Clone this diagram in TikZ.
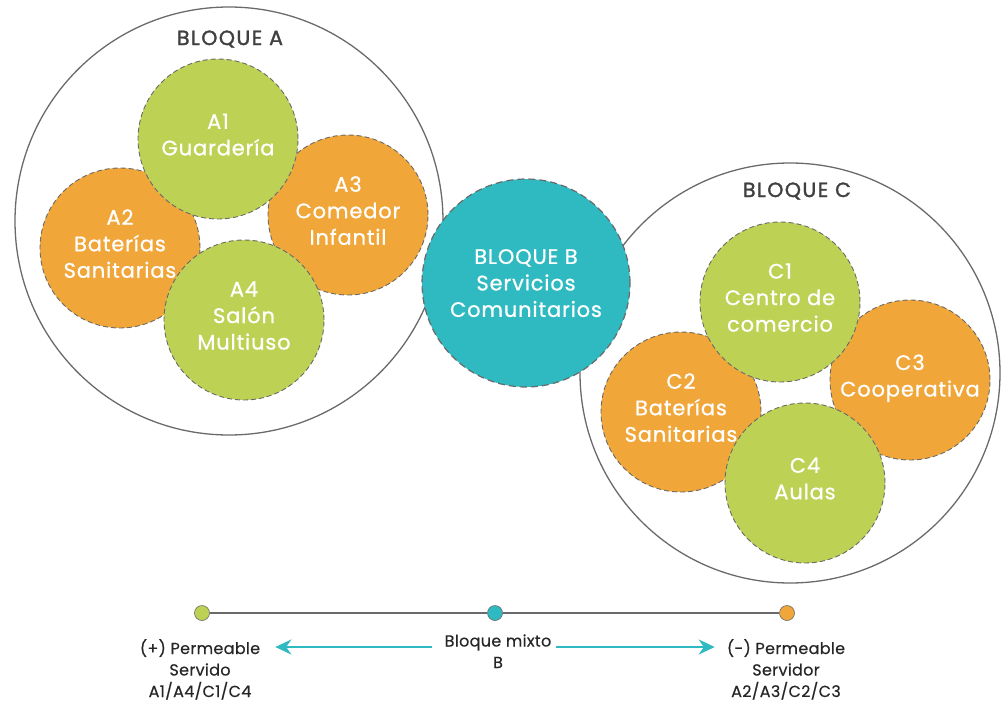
\documentclass[tikz,border=0pt]{standalone}
\usepackage{fontspec}
\setmainfont{Poppins}
\newfontfamily\roundfont{Poppins}[LetterSpace=4, FakeBold=0.8]
\newfontfamily\tagfont{Poppins}[LetterSpace=2, FakeBold=0.4]
\newfontfamily\titlefont{Poppins}[LetterSpace=7, FakeBold=1.6]
\usetikzlibrary{arrows.meta, positioning}
\definecolor{servgreen}{HTML}{BDD255}
\definecolor{servorange}{HTML}{F0A638}
\definecolor{mixteal}{HTML}{2FB9C1}
\definecolor{rimgray}{HTML}{6A6A6A}
\tikzset{
  zone/.style={circle, draw=rimgray, line width=1.3pt, minimum size=#1, inner sep=0pt},
  room/.style={circle, draw=rimgray, dash pattern=on 5pt off 3pt, line width=0.9pt,
               minimum size=160pt, inner sep=0pt, align=center, text=white,
               text depth=9pt, font=\roundfont\fontsize{21}{26.5}\selectfont},
  served/.style={room, fill=servgreen},
  server/.style={room, fill=servorange},
  mixed/.style={room, fill=mixteal, minimum size=208pt, line width=1.2pt,
                text depth=0pt, dash pattern=on 7pt off 4pt},
  title/.style={font=\titlefont\fontsize{20.5}{22}\selectfont, text=black!75, anchor=base},
  dot/.style={circle, draw=rimgray, line width=0.6pt, inner sep=0pt, minimum size=15pt},
  axis/.style={draw=rimgray, line width=1.6pt},
  flow/.style={-{Stealth[length=16pt, width=15pt]}, draw=mixteal, line width=2.4pt},
  tag/.style={align=center, font=\tagfont\fontsize{16}{21.5}\selectfont, text=black!85,
              inner sep=0pt, anchor=base},
}

\begin{document}
\begin{tikzpicture}[x=1pt, y=-1pt]
  \useasboundingbox (0,0) rectangle (1004,704);

  % ---------- bloque A ----------
  \node[zone=428pt] (blqA) at (229,221) {};
  \node[title] (ttlA) at (230,45) {BLOQUE A};
  \node[server] (a2) at (120,248) {A2\\Baterías\\Sanitarias};
  \node[server] (a3) at (348,215) {A3\\Comedor\\Infantil};
  \node[served] (a1) at (218,139) {A1\\Guardería};
  \node[served] (a4) at (244,320) {A4\\Salón\\Multiuso};

  % ---------- bloque C ----------
  \node[zone=420pt] (blqC) at (790,373) {};
  \node[title] (ttlC) at (797,197) {BLOQUE C};
  \node[server] (c2) at (681,412) {C2\\Baterías\\Sanitarias};
  \node[server] (c3) at (910,380) {C3\\Cooperativa};
  \node[served] (c1) at (780,302) {C1\\Centro de\\comercio};
  \node[served] (c4) at (805,483) {C4\\Aulas};

  % ---------- bloque B, on top of both ----------
  \node[mixed] (blqB) at (526,283) {BLOQUE B\\Servicios\\Comunitarios};

  % ---------- legend ----------
  \node[dot, fill=servgreen] (dotL) at (202,613) {};
  \node[dot, fill=mixteal] (dotM) at (495,613) {};
  \node[dot, fill=servorange] (dotR) at (787,613) {};
  \draw[axis] (dotL) -- (dotM) -- (dotR);

  % base of a multi-line tag sits on its last line
  \node[tag] (servd) at (200,697) {(+) Permeable\\Servido\\A1/A4/C1/C4};
  \node[tag] (mix) at (498,668) {Bloque mixto\\B};
  \node[tag] (servr) at (786,697) {(-) Permeable\\Servidor\\A2/A3/C2/C3};

  \coordinate (arrowrow) at (0,647);
  \draw[flow, shorten <=13pt, shorten >=15pt] (mix.west |- arrowrow) -- (servd.east |- arrowrow);
  \draw[flow, shorten <=5pt, shorten >=12pt] (mix.east |- arrowrow) -- (servr.west |- arrowrow);

\end{tikzpicture}
\end{document}
